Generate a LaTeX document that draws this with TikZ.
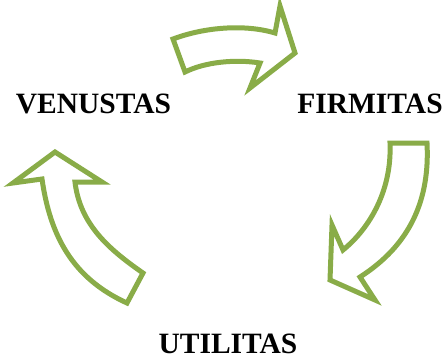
\documentclass[tikz,border=0pt]{standalone}
\usepackage{fontspec}
\setmainfont{Liberation Serif}
\usepackage{tikz}
\usetikzlibrary{positioning}
\definecolor{olivegreen}{RGB}{137,172,72}

\begin{document}
\begin{tikzpicture}[
  x=1pt, y=-1pt,
  blockarr/.style={draw=olivegreen, fill=white, line width=5pt, line join=miter},
  lbl/.style={anchor=base, inner sep=0pt, font=\fontsize{29.5}{31}\selectfont\bfseries}
]
\useasboundingbox (0,0) rectangle (446,360);

% --- Labels ---
\node[lbl] (venustas) at (93.5,113) {VENUSTAS};
\node[lbl] (firmitas) at (370,113) {FIRMITAS};
\node[lbl] (utilitas) at (228,353) {UTILITAS};

% --- Top arrow: venustas to firmitas ---
\draw[blockarr] (185,72) -- (173,39) .. controls (205,27) and (245,24) .. (275,33)
  -- (280,6) -- (295,53) -- (250,88) -- (260,63)
  .. controls (235,59) and (205,62) .. (185,72) -- cycle;

% --- Right arrow: firmitas to utilitas ---
\draw[blockarr] (390,143) -- (427,143) .. controls (430,200) and (410,245) .. (360,277)
  -- (375,300) -- (330,280) -- (332,225) -- (343,250)
  .. controls (370,228) and (392,190) .. (390,143) -- cycle;

% --- Left arrow: utilitas to venustas ---
\draw[blockarr] (55,152) -- (13,183) -- (42,179) .. controls (50,235) and (72,278) .. (127,303)
  -- (143,273) .. controls (110,250) and (80,225) .. (75,182) -- (102,182) -- cycle;

\end{tikzpicture}
\end{document}
